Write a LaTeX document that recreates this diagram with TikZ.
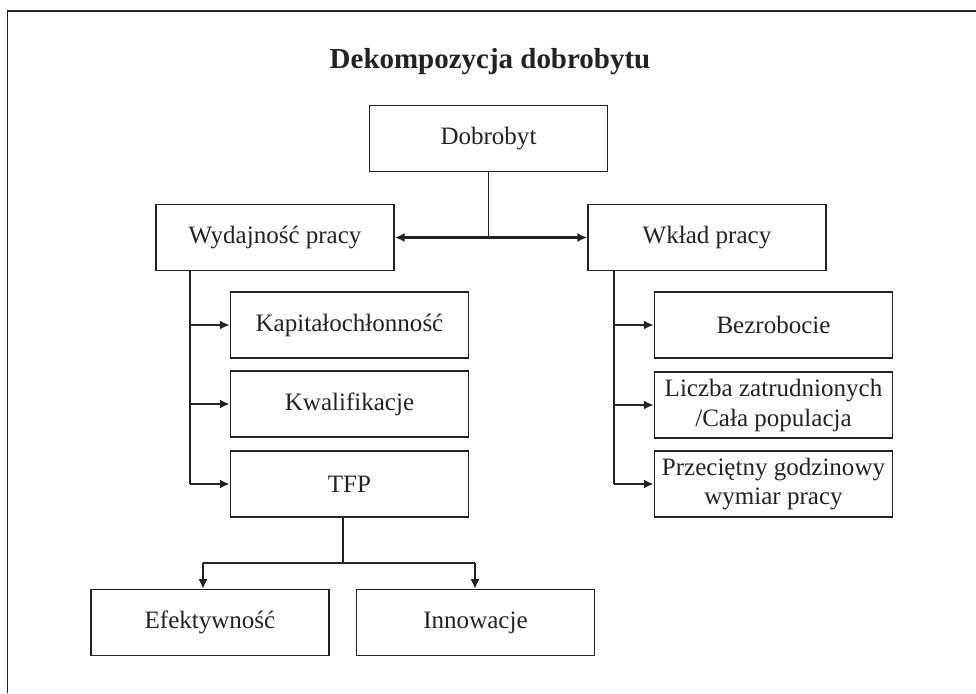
\documentclass[tikz,border=0pt]{standalone}
\usepackage{fontspec}
\setmainfont{Liberation Serif}
\usetikzlibrary{positioning}
\usetikzlibrary{arrows.meta}

\definecolor{ink}{HTML}{222222}

\tikzset{
    box/.style={draw=ink, line width=1.1pt, minimum width=5.95cm, minimum height=1.65cm,
        inner sep=0pt, align=center, text=ink, font=\fontsize{17.8}{21.3}\selectfont},
    link/.style={draw=ink, line width=1pt},
    arr/.style={draw=ink, line width=2.1pt, -{Latex[length=7pt,width=6.5pt]}},
}

\begin{document}
\begin{tikzpicture}[x=0.025cm, y=-0.025cm]
    \useasboundingbox (0, 0) rectangle (976, 693);

    % frame
    \draw[ink, line width=1.3pt] (976, 11) -- (7.5, 11) -- (7.5, 693);

    \node[anchor=base, text=ink, font=\fontsize{20.6}{24}\selectfont\bfseries] (title) at (490, 68) {Dekompozycja dobrobytu};

    \node[box] (dob) at (488.5, 138.5) {Dobrobyt};
    \node[box] (wyd) at (275, 237.5) {Wydajność pracy};
    \node[box] (wkl) at (707, 237.5) {Wkład pracy};

    \node[box] (kap) at (349.5, 325) {Kapitałochłonność};
    \node[box] (kwa) at (349.5, 404) {Kwalifikacje};
    \node[box] (tfp) at (349.5, 484) {TFP};

    \node[box] (bez) at (773.5, 325) {Bezrobocie};
    \node[box] (lic) at (773.5, 405) {Liczba zatrudnionych\\/Cała populacja};
    \node[box] (prz) at (773.5, 484) {Przeciętny godzinowy\\wymiar pracy};

    \node[box] (eff) at (210, 622.5) {Efektywność};
    \node[box] (inn) at (475.5, 622.5) {Innowacje};

    \coordinate (wt) at (190, 271);
    \coordinate (kt) at (614, 271);
    \coordinate (split) at (343, 563);
    \coordinate (effin) at (203, 589);
    \coordinate (innin) at (475, 589);

    % top level
    \draw[link] (dob.south) -- (dob.south |- wyd.east);
    \draw[draw=ink, line width=2.5pt, {Latex[length=7pt,width=6.5pt]}-{Latex[length=7pt,width=6.5pt]}] (wyd.east) -- (wkl.west);

    % left branch
    \draw[link] (wt) -- (wt |- tfp.west);
    \draw[arr] (wt |- kap.west) -- (kap.west);
    \draw[arr] (wt |- kwa.west) -- (kwa.west);
    \draw[arr] (wt |- tfp.west) -- (tfp.west);

    % right branch
    \draw[link] (kt) -- (kt |- prz.west);
    \draw[arr] (kt |- bez.west) -- (bez.west);
    \draw[arr] (kt |- lic.west) -- (lic.west);
    \draw[arr] (kt |- prz.west) -- (prz.west);

    % TFP split
    \draw[link] (split |- tfp.south) -- (split);
    \draw[link] (effin |- split) -- (innin |- split);
    \draw[arr] (effin |- split) -- (effin);
    \draw[arr] (innin |- split) -- (innin);
\end{tikzpicture}
\end{document}
